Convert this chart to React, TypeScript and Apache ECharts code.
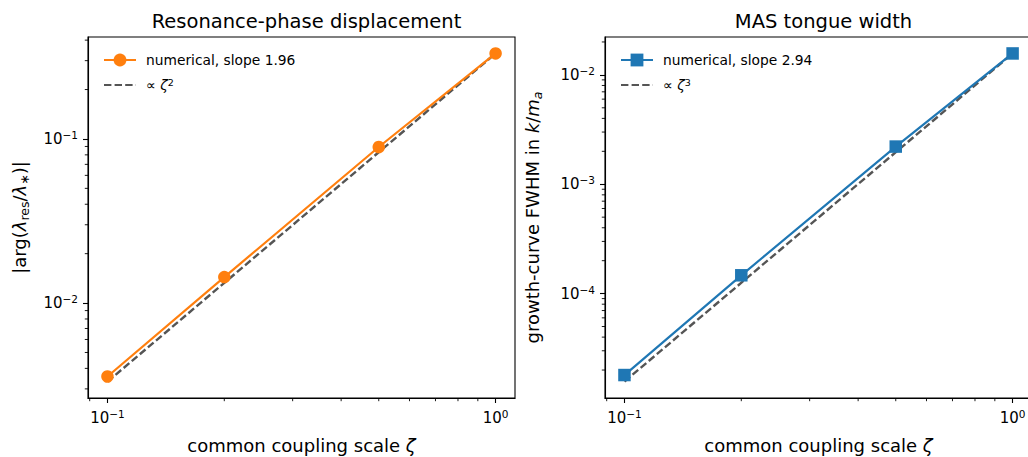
import React, { useEffect, useRef } from "react";
import * as echarts from "echarts";

// ---- data ----
const zeta = [0.1, 0.2, 0.5, 1.0];
const phaseNumerical = [0.00357, 0.0144, 0.0893, 0.332];
const refX = [0.1, 1.0];
const phaseRef = [0.00332, 0.332];
const widthNumerical = [1.8e-5, 1.47e-4, 2.21e-3, 0.0157];
const widthRef = [1.57e-5, 0.0157];

// ---- ticks ----
const xMajorTicks = [0.1, 1];
const xMinorTicks = [0.09, 0.2, 0.3, 0.4, 0.5, 0.6, 0.7, 0.8, 0.9];
const leftYMajorTicks = [0.01, 0.1];
const leftYMinorTicks = [
  0.003, 0.004, 0.005, 0.006, 0.007, 0.008, 0.009,
  0.02, 0.03, 0.04, 0.05, 0.06, 0.07, 0.08, 0.09,
  0.2, 0.3, 0.4,
];
const rightYMajorTicks = [1e-4, 1e-3, 1e-2];
const rightYMinorTicks = [
  2e-5, 3e-5, 4e-5, 5e-5, 6e-5, 7e-5, 8e-5, 9e-5,
  2e-4, 3e-4, 4e-4, 5e-4, 6e-4, 7e-4, 8e-4, 9e-4,
  2e-3, 3e-3, 4e-3, 5e-3, 6e-3, 7e-3, 8e-3, 9e-3,
  0.02,
];

// ---- axis ranges ----
const xRange = [0.0891, 1.122];
const leftYRange = [0.00264, 0.418];
const rightYRange = [1.11e-5, 0.0222];

const titles = ["Resonance-phase displacement", "MAS tongue width"];
const seriesNames = ["numerical, slope 1.96", "ref2", "numerical, slope 2.94", "ref3"];

const FONT = "DejaVu Sans";
const ORANGE = "#ff7f0e";
const BLUE = "#1f77b4";
const GRAY = "#555555";

const supRich = {
  base: { fontSize: 15, fontFamily: FONT, color: "#000", lineHeight: 19 },
  sup: { fontSize: 10.5, fontFamily: FONT, color: "#000", verticalAlign: "top", lineHeight: 10 },
};

function powLabel(v: number) {
  const e = Math.round(Math.log10(v));
  const s = e < 0 ? "\u2212" + -e : String(e);
  return "{base|10}{sup|" + s + "}";
}

const nameRich = {
  n: { fontSize: 18, fontFamily: FONT, color: "#000", lineHeight: 24 },
  it: { fontSize: 18, fontFamily: FONT, color: "#000", fontStyle: "italic", lineHeight: 24 },
  sub: { fontSize: 12.5, fontFamily: FONT, color: "#000", verticalAlign: "bottom", lineHeight: 12 },
  subit: { fontSize: 12.5, fontFamily: FONT, color: "#000", fontStyle: "italic", verticalAlign: "bottom", lineHeight: 12 },
};

function majorX(gridIndex: number) {
  return {
    type: "log",
    logBase: 10,
    gridIndex,
    position: "bottom",
    min: xRange[0],
    max: xRange[1],
    name: "{n|common coupling scale }{it|\u03b6}",
    nameLocation: "middle",
    nameGap: 35,
    nameTextStyle: { rich: nameRich },
    axisLine: { show: true, onZero: false, lineStyle: { color: "#000", width: 1.1 } },
    axisTick: { show: true, length: 5, lineStyle: { color: "#000", width: 1.1 }, customValues: xMajorTicks },
    axisLabel: {
      show: true,
      margin: 10,
      customValues: xMajorTicks,
      formatter: (v: number) => powLabel(v),
      rich: supRich,
    },
    splitLine: { show: false },
  };
}

function majorY(gridIndex: number, range: number[], ticks: number[], name: string, gap: number) {
  return {
    type: "log",
    logBase: 10,
    gridIndex,
    position: "left",
    min: range[0],
    max: range[1],
    name,
    nameLocation: "middle",
    nameRotate: 90,
    nameGap: gap,
    nameTextStyle: { rich: nameRich },
    axisLine: { show: true, onZero: false, lineStyle: { color: "#000", width: 1.1 } },
    axisTick: { show: true, length: 5, lineStyle: { color: "#000", width: 1.1 }, customValues: ticks },
    axisLabel: {
      show: true,
      margin: 10,
      customValues: ticks,
      formatter: (v: number) => powLabel(v),
      rich: supRich,
    },
    splitLine: { show: false },
  };
}

// minor ticks drawn as a custom series, positioned through the axes' own scales
function minorTickSeries(axisIdx: number, values: number[], dim: "x" | "y", anchor: number) {
  return {
    type: "custom",
    xAxisIndex: axisIdx,
    yAxisIndex: axisIdx,
    clip: false,
    silent: true,
    z: 5,
    encode: { x: 0, y: 1 },
    data: values.map((v) => (dim === "x" ? [v, anchor] : [anchor, v])),
    renderItem: (params: any, api: any) => {
      const cs = params.coordSys;
      const p = api.coord([api.value(0), api.value(1)]);
      if (dim === "x") {
        const y0 = cs.y + cs.height;
        return {
          type: "line",
          shape: { x1: p[0], y1: y0, x2: p[0], y2: y0 + 3.2 },
          style: { stroke: "#000", lineWidth: 0.9 },
        };
      }
      const x0 = cs.x;
      return {
        type: "line",
        shape: { x1: x0, y1: p[1], x2: x0 - 3.2, y2: p[1] },
        style: { stroke: "#000", lineWidth: 0.9 },
      };
    },
  };
}

function legendFormatter(name: string) {
  if (name === "ref2") return "{t|\u221d }{it|\u03b6}{sup|2}";
  if (name === "ref3") return "{t|\u221d }{it|\u03b6}{sup|3}";
  return "{t|" + name + "}";
}

const legendRich = {
  t: { fontSize: 13.8, fontFamily: FONT, color: "#000", lineHeight: 16 },
  it: { fontSize: 13.8, fontFamily: FONT, color: "#000", fontStyle: "italic", lineHeight: 16 },
  sup: { fontSize: 9.5, fontFamily: FONT, color: "#000", verticalAlign: "top", lineHeight: 8 },
};

function legend(left: number, names: string[]) {
  return {
    show: true,
    orient: "vertical",
    left,
    top: 48,
    itemWidth: 32,
    itemHeight: 16,
    itemGap: 10,
    selectedMode: false,
    data: [
      { name: names[0] },
      { name: names[1], itemStyle: { opacity: 0 } },
    ],
    formatter: legendFormatter,
    textStyle: { padding: [0, 0, 0, 5], rich: legendRich },
  };
}

export default function App() {
  const ref = useRef<HTMLDivElement>(null);
  useEffect(() => {
    document.body.style.margin = "0";
    const chart = echarts.init(ref.current!, undefined, { renderer: "svg" });
    const pts = (xs: number[], ys: number[]) => xs.map((x, i) => [x, ys[i]]);
    chart.setOption({
      animation: false,
      backgroundColor: "#fff",
      textStyle: { fontFamily: FONT },
      title: [
        {
          text: titles[0],
          left: 301.5,
          top: 6,
          textAlign: "center",
          textStyle: { fontSize: 19.5, fontWeight: "normal", fontFamily: FONT, color: "#000" },
        },
        {
          text: titles[1],
          left: 818.5,
          top: 6,
          textAlign: "center",
          textStyle: { fontSize: 19.5, fontWeight: "normal", fontFamily: FONT, color: "#000" },
        },
      ],
      grid: [
        { left: 88, top: 37, width: 427, height: 361, outerBoundsMode: "none", containLabel: false, show: true, borderColor: "#000", borderWidth: 1.1, backgroundColor: "transparent" },
        { left: 605, top: 37, width: 427, height: 361, outerBoundsMode: "none", containLabel: false, show: true, borderColor: "#000", borderWidth: 1.1, backgroundColor: "transparent" },
      ],
      xAxis: [majorX(0), majorX(1)],
      yAxis: [
        majorY(0, leftYRange, leftYMajorTicks, "{n||arg(}{it|\u03bb}{sub|res}{n|/}{it|\u03bb}{sub|\u2217}{n|)|}", 57),
        majorY(1, rightYRange, rightYMajorTicks, "{n|growth-curve FWHM in }{it|k}{n|/}{it|m}{subit|a}", 61),
      ],
      legend: [legend(98, [seriesNames[0], seriesNames[1]]), legend(615, [seriesNames[2], seriesNames[3]])],
      series: [
        {
          name: seriesNames[1],
          type: "line",
          xAxisIndex: 0,
          yAxisIndex: 0,
          data: pts(refX, phaseRef),
          symbol: "none",
          lineStyle: { color: GRAY, width: 2.4, type: [7.4, 3.2] },
          itemStyle: { color: GRAY },
          z: 2,
        },
        {
          name: seriesNames[0],
          type: "line",
          xAxisIndex: 0,
          yAxisIndex: 0,
          data: pts(zeta, phaseNumerical),
          symbol: "circle",
          symbolSize: 12.5,
          lineStyle: { color: ORANGE, width: 2.2 },
          itemStyle: { color: ORANGE },
          z: 3,
        },
        {
          name: seriesNames[3],
          type: "line",
          xAxisIndex: 1,
          yAxisIndex: 1,
          data: pts(refX, widthRef),
          symbol: "none",
          lineStyle: { color: GRAY, width: 2.4, type: [7.4, 3.2] },
          itemStyle: { color: GRAY },
          z: 2,
        },
        {
          name: seriesNames[2],
          type: "line",
          xAxisIndex: 1,
          yAxisIndex: 1,
          data: pts(zeta, widthNumerical),
          symbol: "rect",
          symbolSize: 12.5,
          lineStyle: { color: BLUE, width: 2.2 },
          itemStyle: { color: BLUE },
          z: 3,
        },
        minorTickSeries(0, xMinorTicks, "x", leftYRange[0]),
        minorTickSeries(0, leftYMinorTicks, "y", xRange[0]),
        minorTickSeries(1, xMinorTicks, "x", rightYRange[0]),
        minorTickSeries(1, rightYMinorTicks, "y", xRange[0]),
      ],
    });
    return () => chart.dispose();
  }, []);
  return <div ref={ref} style={{ position: "fixed", left: 0, top: 0, width: 1028, height: 457 }} />;
}
